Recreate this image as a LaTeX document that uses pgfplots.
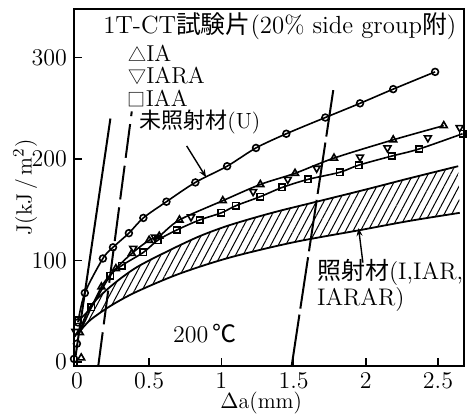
\documentclass[border=0pt]{standalone}
\usepackage{fontspec}
\usepackage{pgfplots}
\pgfplotsset{compat=1.18}
\usepgfplotslibrary{fillbetween}
\usetikzlibrary{patterns.meta,arrows.meta}
\newfontfamily\cjk{Noto Sans CJK JP}
\newcommand\sym[1]{{\cjk\fontsize{9}{10}\selectfont #1}}
\begin{document}
\begin{tikzpicture}
\begin{axis}[
  scale only axis, width=195pt, height=178.5pt,
  xmin=-0.02, xmax=2.68, ymin=-4, ymax=348,
  xtick={0,0.5,1,1.5,2,2.5}, ytick={0,100,200,300},
  tick align=inside, xtick pos=bottom, ytick pos=left,
  major tick length=4pt,
  tick style={line width=0.8pt,black},
  axis line style={line width=0.8pt},
  ticklabel style={font=\fontsize{11.5}{13}\selectfont},
  xlabel={$\Delta$a(mm)}, ylabel={J(kJ\,/\,m$^2$)},
  xlabel style={font=\fontsize{11}{13}\selectfont, at={(axis description cs:0.48,-0.104)}, anchor=center},
  ylabel style={font=\fontsize{11}{13}\selectfont, at={(axis description cs:-0.125,0.5)}, anchor=center},
  clip=false,
]
% irradiated band
\addplot[name path=up, smooth, line width=0.9pt] coordinates {
 (0.02,30) (0.09,54) (0.23,74) (0.41,93) (0.64,110) (0.85,124) (1.06,135) (1.35,147) (1.66,158) (2.0,170) (2.3,181) (2.64,193)};
\addplot[name path=lo, smooth, line width=0.9pt] coordinates {
 (0.02,30) (0.09,41) (0.23,55) (0.41,69) (0.71,87) (1.06,103) (1.5,118) (1.96,130) (2.3,139) (2.65,147)};
\addplot[pattern={Lines[angle=62,distance=3.3pt,line width=0.5pt]}, draw=none] fill between[of=up and lo];
% blunting / exclusion lines
\addplot[line width=1pt] coordinates {(-0.01,5) (0.232,240)};
\addplot[line width=1pt, dash pattern=on 17pt off 4pt] coordinates {(0.148,-4) (0.38,247)};
\addplot[line width=1pt, dash pattern=on 26pt off 3pt] coordinates {(1.487,-4) (1.775,268)};
% U
\addplot[line width=0.8pt, smooth, mark=o, mark size=1.7pt, mark options={fill=white, solid}] coordinates {
 (0.007,39) (0.055,68) (0.18,102) (0.25,113) (0.36,127) (0.46,142) (0.62,158) (0.82,177) (1.04,193) (1.24,211) (1.45,225) (1.72,241) (1.96,255) (2.19,269) (2.48,286)};
\addplot[only marks, mark=o, mark size=1.7pt, mark options={fill=white, line width=0.8pt}] coordinates {(-0.02,3) (0,18)};
% IA
\addplot[line width=0.8pt, smooth, mark=triangle, mark size=2pt, mark options={fill=white, solid}] coordinates {
 (0.02,29) (0.17,74) (0.27,92) (0.38,107) (0.5,120) (0.57,124) (0.71,140) (1.01,159) (1.27,175) (1.51,186) (1.78,201) (2.19,219) (2.54,233)};
\addplot[only marks, mark=triangle, mark size=2pt, mark options={fill=white, line width=0.8pt}] coordinates {(0.03,4)};
% IARA
\addplot[only marks, mark=triangle, mark size=2pt, mark options={fill=white, line width=0.8pt, rotate=180}] coordinates {
 (-0.01,30) (0.39,112) (0.54,123) (0.79,143) (1.22,168) (1.46,180) (1.66,191) (1.96,202) (2.15,211) (2.43,221) (2.65,231)};
% IAA
\addplot[line width=0.8pt, smooth, mark=square, mark size=1.6pt, mark options={fill=white, solid}] coordinates {
 (0.01,41) (0.1,54) (0.23,85) (0.31,95) (0.46,108) (0.56,120) (0.69,130) (0.85,140) (1.0,147) (1.1,154) (1.27,163) (1.42,172) (1.6,180) (1.82,187) (1.95,194) (2.18,203) (2.37,210) (2.67,225)};
% annotations
\node[anchor=west, inner sep=0pt, font=\fontsize{12.4}{14}\selectfont] at (axis cs:0.18,331) {1T-CT{\cjk 試験片}(20\% side group{\cjk 附})};
\node[anchor=west, inner sep=0pt, font=\fontsize{11.5}{13}\selectfont] at (axis cs:0.353,304) {\sym{△}IA};
\node[anchor=west, inner sep=0pt, font=\fontsize{11.5}{13}\selectfont] at (axis cs:0.353,282) {\sym{▽}IARA};
\node[anchor=west, inner sep=0pt, font=\fontsize{11.5}{13}\selectfont] at (axis cs:0.35,260) {\sym{□}IAA};
\node[anchor=west, inner sep=0pt, font=\fontsize{11}{13}\selectfont] at (axis cs:0.43,237) {{\cjk 未照射材}(U)};
\node[anchor=west, inner sep=0pt, font=\fontsize{12}{14}\selectfont] at (axis cs:1.66,88) {{\cjk 照射材}(I,IAR,};
\node[anchor=west, inner sep=0pt, font=\fontsize{12}{14}\selectfont] at (axis cs:1.66,62) {IARAR)};
\node[anchor=center, inner sep=0pt, font=\fontsize{12}{14}\selectfont] at (axis cs:0.886,28) {200\,{\cjk ℃}};
\draw[line width=0.7pt, -{Stealth[length=4pt]}] (axis cs:0.76,213) -- (axis cs:0.895,182);
\draw[line width=0.7pt, -{Stealth[length=4pt]}] (axis cs:1.98,98) -- (axis cs:1.95,132);
\end{axis}
\pgfresetboundingbox
\path ([shift={(-37pt,-25.5pt)}]current axis.south west) rectangle ([shift={(6pt,4.5pt)}]current axis.north east);
\end{tikzpicture}
\end{document}
